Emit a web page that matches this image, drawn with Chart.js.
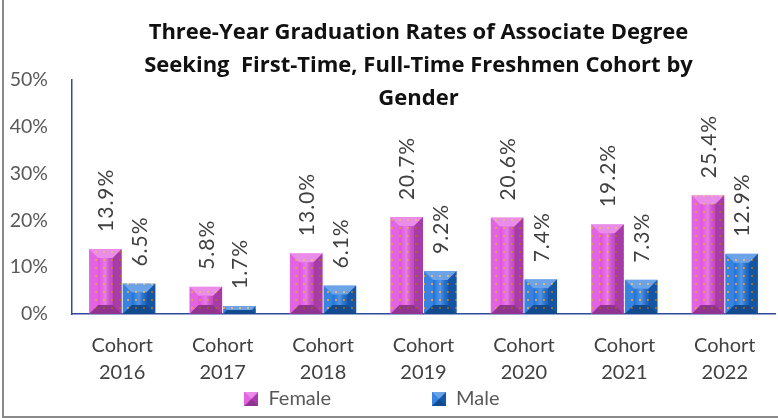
<!DOCTYPE html>
<html>
<head>
<meta charset="utf-8">
<script src="https://cdn.jsdelivr.net/npm/chart.js@4.4.1/dist/chart.umd.min.js"></script>
<style>
  html, body { margin: 0; padding: 0; background: #fff; overflow: hidden; }
  #wrap { position: relative; width: 776px; height: 418px; box-sizing: border-box;
          border-left: 2px solid #8a8a8a; border-bottom: 2px solid #8a8a8a; margin-left: 2px; }
  canvas { display: block; }
</style>
</head>
<body>
<div id="wrap"><canvas id="gradChart" width="774" height="416"></canvas></div>
<script>
// chart data
const cohorts = [['Cohort', '2016'], ['Cohort', '2017'], ['Cohort', '2018'], ['Cohort', '2019'],
                 ['Cohort', '2020'], ['Cohort', '2021'], ['Cohort', '2022']];
const femaleRates = [13.9, 5.8, 13.0, 20.7, 20.6, 19.2, 25.4];
const maleRates = [6.5, 1.7, 6.1, 9.2, 7.4, 7.3, 12.9];
const yTicks = [0, 10, 20, 30, 40, 50];
const titleLines = ['Three-Year Graduation Rates of Associate Degree',
                    'Seeking  First-Time, Full-Time Freshmen Cohort by',
                    'Gender'];

const FONT = 'Lato, "Open Sans", sans-serif';
const FEMALE = '#df4fdf';
const MALE = '#1b72dc';

// draws the bevelled face of a box (bars and legend markers)
function bevel(ctx, l, t, r, b, size) {
  const bv = Math.min(size, (r - l) / 2, (b - t) / 2);
  const poly = (pts, fill) => {
    ctx.beginPath();
    ctx.moveTo(pts[0][0], pts[0][1]);
    pts.slice(1).forEach(p => ctx.lineTo(p[0], p[1]));
    ctx.closePath();
    ctx.fillStyle = fill;
    ctx.fill();
  };
  const grad = ctx.createLinearGradient(l + bv, 0, r - bv, 0);
  grad.addColorStop(0, 'rgba(255,255,255,0)');
  grad.addColorStop(0.5, 'rgba(255,255,255,0.25)');
  grad.addColorStop(1, 'rgba(0,0,0,0.1)');
  ctx.fillStyle = grad;
  ctx.fillRect(l + bv, t + bv, r - l - 2 * bv, b - t - 2 * bv);
  poly([[l, t], [r, t], [r - bv, t + bv], [l + bv, t + bv]], 'rgba(255,255,255,0.35)');
  poly([[l, t], [l + bv, t + bv], [l + bv, b - bv], [l, b]], 'rgba(255,255,255,0.12)');
  poly([[r, t], [r, b], [r - bv, b - bv], [r - bv, t + bv]], 'rgba(0,0,0,0.25)');
  poly([[l, b], [l + bv, b - bv], [r - bv, b - bv], [r, b]], 'rgba(0,0,0,0.35)');
}

// dotted fill like the original pattern
function dotPattern(base) {
  const c = document.createElement('canvas');
  c.width = 8; c.height = 8;
  const g = c.getContext('2d');
  g.fillStyle = base;
  g.fillRect(0, 0, 8, 8);
  g.fillStyle = '#e0902a';
  g.fillRect(3, 3, 2, 2);
  return g.createPattern(c, 'repeat');
}

function legendMarker(base) {
  const c = document.createElement('canvas');
  c.width = 14; c.height = 14;
  const g = c.getContext('2d');
  g.fillStyle = base;
  g.fillRect(0, 0, 14, 14);
  bevel(g, 0, 0, 14, 14, 7);
  return c;
}

const bevelPlugin = {
  id: 'bevel',
  afterDatasetsDraw(chart) {
    const ctx = chart.ctx;
    chart.data.datasets.forEach((ds, i) => {
      chart.getDatasetMeta(i).data.forEach(bar => {
        ctx.save();
        bevel(ctx, bar.x - bar.width / 2, bar.y, bar.x + bar.width / 2, bar.base, 9);
        ctx.restore();
      });
    });
  }
};

// rotated value labels above the bars
const valueLabels = {
  id: 'valueLabels',
  afterDatasetsDraw(chart) {
    const ctx = chart.ctx;
    ctx.save();
    ctx.font = '21px ' + FONT;
    ctx.letterSpacing = '1px';
    ctx.fillStyle = '#404040';
    chart.data.datasets.forEach((ds, i) => {
      chart.getDatasetMeta(i).data.forEach((bar, j) => {
        ctx.save();
        ctx.translate(bar.x + 1, bar.y - 17);
        ctx.rotate(-Math.PI / 2);
        ctx.textAlign = 'left';
        ctx.textBaseline = 'middle';
        ctx.fillText(ds.data[j].toFixed(1) + '%', 0, 0);
        ctx.restore();
      });
    });
    ctx.restore();
  }
};

// title sits over the plot area, a little left of its centre
const titlePlugin = {
  id: 'overTitle',
  afterDraw(chart) {
    const ctx = chart.ctx;
    const a = chart.chartArea;
    ctx.save();
    ctx.font = 'bold 22px "Open Sans", sans-serif';
    ctx.fillStyle = '#111';
    ctx.textAlign = 'center';
    ctx.textBaseline = 'middle';
    titleLines.forEach((line, k) => {
      ctx.fillText(line, (a.left + a.right) / 2 - 5, 33 + k * 33);
    });
    ctx.restore();
  }
};

const ctx = document.getElementById('gradChart').getContext('2d');
new Chart(ctx, {
  type: 'bar',
  data: {
    labels: cohorts,
    datasets: [{
      label: 'Female',
      data: femaleRates,
      backgroundColor: dotPattern(FEMALE),
      borderWidth: 0,
      categoryPercentage: 0.67,
      barPercentage: 0.97
    }, {
      label: 'Male',
      data: maleRates,
      backgroundColor: dotPattern(MALE),
      borderWidth: 0,
      categoryPercentage: 0.67,
      barPercentage: 0.97
    }]
  },
  options: {
    responsive: false,
    animation: false,
    devicePixelRatio: 1,
    layout: { padding: { top: 80, right: 3, left: 0, bottom: -3 } },
    scales: {
      y: {
        min: 0,
        max: 50,
        afterBuildTicks: axis => { axis.ticks = yTicks.map(v => ({ value: v })); },
        afterFit: axis => { axis.width = 68; },
        ticks: {
          callback: v => v + '%',
          color: '#595959',
          font: { family: FONT, size: 19.5 },
          padding: 18
        },
        grid: { display: false, drawTicks: true, tickLength: 6, color: '#2f4a9c' },
        border: { color: '#2f4a9c', width: 1.5 }
      },
      x: {
        afterFit: axis => { axis.height = 74; },
        ticks: {
          color: '#404040',
          font: { family: FONT, size: 20, lineHeight: 1.35 },
          maxRotation: 0,
          padding: 18
        },
        grid: { display: false, drawTicks: false },
        border: { color: '#2f4a9c', width: 1.5 }
      }
    },
    plugins: {
      legend: {
        position: 'bottom',
        labels: {
          color: '#595959',
          font: { family: FONT, size: 20 },
          usePointStyle: true,
          pointStyleWidth: 14,
          boxHeight: 14,
          padding: 1,
          generateLabels: chart => chart.data.datasets.map((ds, i) => ({
            // trailing spaces space the items out like the original legend
            text: ds.label + (i === 0 ? '\u2003'.repeat(6) + '\u2002' : '\u2003\u2003\u2005'),
            pointStyle: legendMarker(i === 0 ? FEMALE : MALE),
            fontColor: '#595959',
            lineWidth: 0,
            datasetIndex: i
          }))
        }
      },
      tooltip: { enabled: false }
    }
  },
  plugins: [bevelPlugin, valueLabels, titlePlugin]
});
</script>
</body>
</html>
